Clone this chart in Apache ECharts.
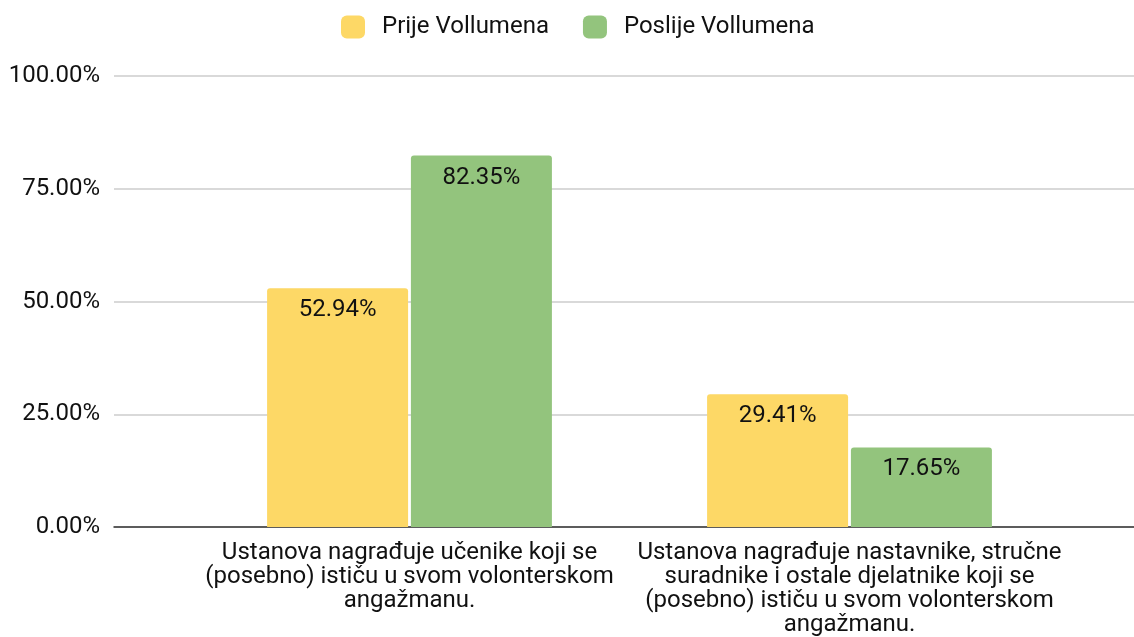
<!DOCTYPE html>
<html>
<head>
<meta charset="utf-8">
<script src="https://cdn.jsdelivr.net/npm/echarts@6/dist/echarts.min.js"></script>
<style>
  html, body { margin: 0; padding: 0; background: #fff; }
  #main { width: 1134px; height: 637px; }
</style>
</head>
<body>
<div id="main"></div>
<script>
// data
const categories = [
  'Ustanova nagrađuje učenike koji se\n(posebno) ističu u svom volonterskom\nangažmanu.',
  'Ustanova nagrađuje nastavnike, stručne\nsuradnike i ostale djelatnike koji se\n(posebno) ističu u svom volonterskom\nangažmanu.'
];
const prije = [0.5294, 0.2941];
const poslije = [0.8235, 0.1765];
const seriesNames = ['Prije Vollumena', 'Poslije Vollumena'];

const chart = echarts.init(document.getElementById('main'), null, { renderer: 'canvas' });
const font = 'Roboto, "Noto Sans", sans-serif';
const pct = v => (v * 100).toFixed(2) + '%';

const label = {
  show: true,
  position: 'insideTop',
  distance: 10,
  color: '#111',
  fontSize: 24,
  fontFamily: font,
  formatter: p => pct(p.value)
};

var option = {
  animation: false,
  color: ['#FDD866', '#93C47D'],
  legend: {
    top: 15,
    left: 341,
    padding: 0,
    itemWidth: 24,
    itemHeight: 23,
    itemGap: 34,
    icon: 'roundRect',
    textStyle: { fontSize: 24, fontFamily: font, color: '#111', padding: [0, 0, 0, 12] },
    data: seriesNames
  },
  grid: [
    { left: 114, right: 0, top: 76, bottom: 110 },   // gridlines + y labels
    { left: 189.5, right: 64.5, top: 76, bottom: 110 } // bars
  ],
  xAxis: [
    {
      gridIndex: 0, type: 'value', min: 0, max: 1,
      axisLine: { show: true, onZero: false, lineStyle: { color: '#333', width: 1.5 } },
      axisTick: { show: false }, axisLabel: { show: false }, splitLine: { show: false }
    },
    {
      gridIndex: 1, type: 'category', data: categories,
      axisLine: { show: false }, axisTick: { show: false },
      axisLabel: {
        margin: 14, interval: 0, fontSize: 24, lineHeight: 24,
        fontFamily: font, color: '#111', align: 'center'
      }
    }
  ],
  yAxis: [
    {
      gridIndex: 0, type: 'value', min: 0, max: 1, interval: 0.25,
      axisLine: { show: false }, axisTick: { show: false },
      axisLabel: { margin: 14, fontSize: 24, fontFamily: font, color: '#111', formatter: pct },
      splitLine: { lineStyle: { color: '#ccc', width: 1.5 } }
    },
    {
      gridIndex: 1, type: 'value', min: 0, max: 1, show: false
    }
  ],
  series: [
    {
      name: seriesNames[0], type: 'bar', xAxisIndex: 1, yAxisIndex: 1,
      data: prije, barWidth: 141, barGap: '2%',
      itemStyle: { borderRadius: [3, 3, 0, 0] },
      label: label
    },
    {
      name: seriesNames[1], type: 'bar', xAxisIndex: 1, yAxisIndex: 1,
      data: poslije, barWidth: 141, barGap: '2%',
      itemStyle: { borderRadius: [3, 3, 0, 0] },
      label: label
    }
  ]
};

chart.setOption(option, true);
</script>
</body>
</html>
